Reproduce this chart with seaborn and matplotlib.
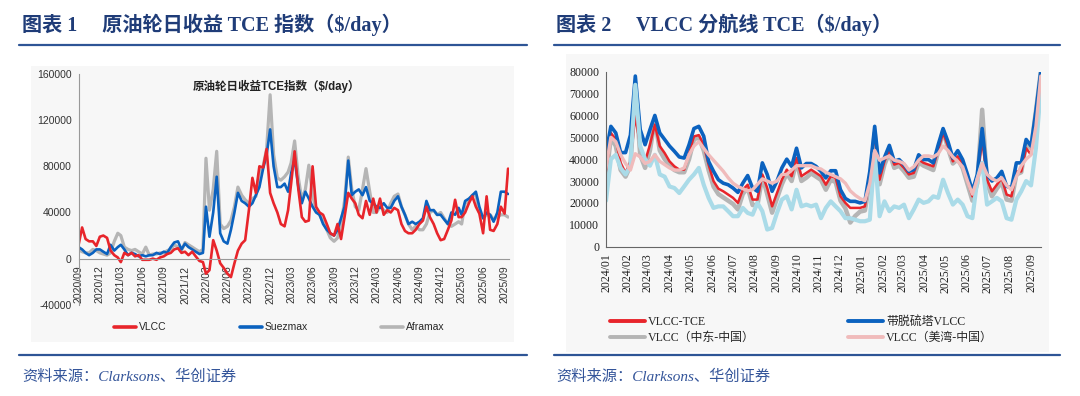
import numpy as np
import pandas as pd
import matplotlib
matplotlib.use("Agg")
import matplotlib.pyplot as plt
import matplotlib.dates as mdates
from matplotlib.patches import Rectangle
from matplotlib.lines import Line2D
import seaborn as sns


# ---------------------------------------------------------------------
# Data: chart 1 (semi-monthly, k$/day), 2020/09 - 2025/09
# ---------------------------------------------------------------------
left_months = pd.date_range("2020-09-01", "2025-09-01", freq="MS")
left_dates = sorted(list(left_months) + list(left_months + pd.Timedelta(days=15)))

vlcc_k = [
    12, 27, 17, 15, 15, 11, 19, 20,
    18, 7, 3, 1, -3, 5, 3, 5, 2, 3, -1, -1, -1, 0, -1, 1, 2, 4, 5, 8, 9, 5, 6, 3,
    6, 2, -2, -3, -13, -10, 16, 7, -4, -8, -13, -16, -4, 7, 13, 16, 42, 70, 57, 80, 79, 95, 57, 48,
    40, 30, 28, 42, 65, 93, 60, 36, 32, 33, 80, 45, 40, 38, 30, 22, 20, 30, 17, 36, 57, 52, 48, 38,
    35, 50, 38, 52, 40, 52, 38, 42, 40, 44, 42, 30, 24, 22, 22, 25, 30, 33, 45, 36, 30, 22, 16, 17,
    25, 33, 51, 36, 36, 40, 48, 54, 45, 39, 22, 54, 25, 24, 30, 45, 39, 78,
]
suezmax_k = [
    10, 8, 5, 3, 5, 8, 8, 6,
    4, 12, 7, 10, 12, 8, 3, 5, 4, 2, 3, 2, 3, 3, 5, 4, 6, 5, 10, 14, 15, 8, 13, 10,
    8, 6, 4, 5, 45, 19, 40, 71, 22, 15, 13, 25, 40, 57, 50, 48, 45, 48, 55, 62, 78, 90, 112, 80,
    62, 62, 65, 58, 74, 86, 62, 48, 58, 52, 45, 40, 38, 30, 25, 22, 20, 25, 35, 45, 85, 55, 58, 60,
    55, 62, 50, 48, 45, 44, 48, 44, 44, 50, 54, 45, 38, 30, 32, 30, 32, 35, 50, 42, 42, 38, 38, 34,
    30, 40, 38, 44, 38, 50, 52, 55, 58, 45, 35, 40, 38, 32, 40, 58, 58, 56,
]
aframax_k = [
    8, 6, 5, 5, 8, 7, 5, 4,
    3, 5, 15, 22, 20, 10, 8, 7, 8, 6, 4, 10, 3, 4, 4, 5, 5, 7, 8, 12, 10, 7, 14, 12,
    10, 8, 6, 8, 87, 42, 60, 93, 30, 26, 28, 33, 45, 62, 55, 51, 48, 52, 54, 74, 80, 95, 142, 90,
    70, 68, 71, 75, 83, 102, 70, 51, 60, 81, 55, 42, 38, 32, 25, 18, 15, 18, 30, 50, 88, 60, 45, 42,
    60, 78, 58, 40, 40, 45, 42, 40, 48, 54, 56, 45, 38, 30, 25, 28, 25, 25, 30, 40, 42, 38, 40, 35,
    30, 28, 30, 32, 30, 48, 50, 55, 55, 40, 35, 38, 38, 34, 36, 38, 38, 36,
]

# ---------------------------------------------------------------------
# Data: chart 2 (weekly, k$/day), 2024/01 - 2025/09
# ---------------------------------------------------------------------
right_dates = pd.date_range("2024-01-01", periods=90, freq="7D")

vlcc_tce_k = [
    34.4, 52, 49, 38.3, 33.7, 39, 60, 46, 39, 46.6, 55.8, 46, 42.8, 39, 36.7, 35.2, 35.2,
    42.8, 50.4, 51, 46.6, 37.5, 30, 26.5, 25.3, 23.8, 22.3, 20, 26, 28.3, 21.5, 21.5, 33,
    26.8, 18.4, 24.5, 30.6, 35.2, 32.2, 40.5, 32.2, 33.7,
    35.2, 33.7, 32.2, 28.3, 32.2, 31.4, 23, 20, 17.7, 17.7, 17.7, 18.4, 32.2, 52.7, 30.6,
    39, 44.3, 37.5, 38.3, 36, 33, 33.7, 39.8, 38.3, 37.5, 36.7, 44.3, 52, 46, 39, 41.3,
    37.5, 30.6, 23, 30.6, 49, 30.6, 25.3, 28.3, 31.4, 23.8, 23, 34.4, 34.4,
    45, 42, 58, 78,
]
scrubber_vlcc_k = [
    42.8, 55, 52, 43, 43, 51, 78, 53.5, 46.6, 53.5, 60, 52, 49, 46, 43.6, 41, 40.5,
    46.6, 54, 55, 50.5, 39, 34.5, 30.6, 29, 28.3, 26.8, 24.8, 29, 32.5, 26.8, 25.3, 38.3,
    33, 25.3, 30, 36, 40, 36.7, 45, 36, 38,
    38, 36.7, 34.4, 31.4, 34.7, 34.7, 26, 22, 20.7, 20.7, 20, 20.7, 34.4, 55, 33.7,
    40.8, 46.3, 39, 39.8, 37.5, 34.4, 35.2, 42, 39.8, 39.8, 38.3, 46.6, 54, 48, 40.5, 43.9,
    39.8, 33, 25.3, 33, 54, 33, 30, 31.4, 34.4, 27.6, 26.8, 38.3, 38.3,
    49, 46, 62, 80,
]
me_china_k = [
    31, 50, 46, 35, 32, 37, 72, 42, 36, 44, 58, 44, 40, 37, 35, 34, 34,
    40, 49, 50, 44, 35, 27.5, 24, 22.5, 21, 19.5, 17, 24, 27, 19, 19, 32,
    24, 15.5, 22, 28.5, 33.5, 30, 39, 30, 31.5,
    33.5, 32, 30.5, 26, 30.5, 29.5, 21, 17.5, 11, 14, 16, 16.5, 30, 52, 28.5,
    37.5, 43, 36, 37, 34.5, 31.5, 32, 38.5, 37, 36, 35, 43.5, 53, 45, 38, 40,
    36, 28.5, 21, 29, 62.6, 29, 23, 26.5, 29.5, 21.5, 21, 33, 34,
    47, 45, 62, 80,
]
usg_china_k = [
    36, 50, 48, 42, 38, 35, 42.5, 41, 38, 39, 42, 39, 37.5, 36, 35, 35, 36,
    42, 46, 48, 45, 42, 39.5, 37, 34.5, 31.5, 29, 27.5, 26.5, 25.5, 26, 28.5, 31,
    30, 29, 30, 33, 33, 35, 37, 37, 37,
    37, 36, 35.5, 34, 33, 32, 31, 29, 25.5, 23.5, 22, 21, 29, 44, 39.5,
    40.5, 41.5, 39.5, 39, 38, 35, 36.5, 39.5, 41.5, 41.5, 41, 42.5, 46, 44, 41, 39,
    36.5, 30, 24, 31, 38, 33, 31, 30, 31.5, 28, 26, 32, 37,
    40, 42, 55, 78,
]
other_route_k = [
    21, 40, 42, 36, 33, 37, 74, 46, 40, 37, 42, 33, 32, 27.5, 26.8, 24.5, 27.5,
    30.6, 33, 36, 28.3, 22.3, 17.7, 18.4, 18.4, 16.2, 13.9, 13.9, 17.7, 15.4, 14.6, 20,
    16.2, 7.8, 8.5, 15.4, 21.5, 23, 17, 26, 18.4, 19.2,
    18.4, 19.2, 13, 17.7, 20.7, 18.4, 16.2, 13, 13, 12.3, 11.6, 11.6, 12.3, 42.8, 13.9,
    20.7, 16.2, 18.4, 17.7, 19.2, 13, 17, 21.5, 20, 20.7, 23, 22.3, 30.6, 24.5, 19.2, 21.5,
    19.2, 13.9, 13, 30.6, 38.3, 19.2, 20.7, 22.3, 20.7, 13, 12.3, 21.5, 25.3,
    30, 28, 45, 72,
]

# ---------------------------------------------------------------------
# Style
# ---------------------------------------------------------------------
sns.set_style("white")
SANS = ["Liberation Sans", "Noto Sans CJK SC", "DejaVu Sans"]
SERIF = ["Liberation Serif", "Noto Sans CJK SC", "DejaVu Sans"]
plt.rcParams["font.family"] = SANS
plt.rcParams["axes.unicode_minus"] = False

RED = "#E8252B"
BLUE = "#0B62BF"
GRAY = "#B5B5B5"
PINK = "#F0BBBB"
LIGHT = "#AADBE8"
NAVY = "#24488A"

W, H = 1080, 396


def fx(px):
    return px / W


def fy(py):
    return 1 - py / H


fig = plt.figure(figsize=(10.8, 3.96), dpi=100)

# panel backgrounds (behind the axes)
fig.patches.append(Rectangle((fx(31), fy(342)), fx(483), 276.5 / H, transform=fig.transFigure,
                             facecolor="#f7f7f7", edgecolor="none", zorder=-10))
fig.patches.append(Rectangle((fx(566), fy(352)), fx(483), 298.5 / H, transform=fig.transFigure,
                             facecolor="#f7f7f7", edgecolor="none", zorder=-10))

# titles, rules, sources
for x0, x1 in [(19, 527), (554, 1060)]:
    fig.add_artist(Line2D([fx(x0), fx(x1)], [fy(45), fy(45)], color="#2E5596", lw=1.6))
    fig.add_artist(Line2D([fx(x0), fx(x1)], [fy(355), fy(355)], color="#2E5596", lw=1.6))
fig.text(fx(22), fy(25), "图表 1     原油轮日收益 TCE 指数（$/day）", family=SERIF, fontsize=14.5,
         fontweight="bold", color="#1F3C78", va="center")
fig.text(fx(556), fy(25), "图表 2     VLCC 分航线 TCE（$/day）", family=SERIF, fontsize=14.5,
         fontweight="bold", color="#1F3C78", va="center")
for x in (22, 556):
    fig.text(fx(x), fy(377), "资料来源：Clarksons、华创证券", family=SERIF, fontsize=11,
             style="italic", color="#34559A", va="center")

# ---------------------------------------------------------------------
# Chart 1
# ---------------------------------------------------------------------
ax1 = fig.add_axes([fx(78.6), fy(304.8), fx(509 - 78.6), (304.8 - 74) / H])
ax1.set_facecolor("none")
left_df = pd.DataFrame({"date": left_dates,
                        "VLCC": np.array(vlcc_k) * 1000,
                        "Suezmax": np.array(suezmax_k) * 1000,
                        "Aframax": np.array(aframax_k) * 1000})
sns.lineplot(data=left_df, x="date", y="Aframax", ax=ax1, color=GRAY, lw=2.3)
sns.lineplot(data=left_df, x="date", y="Suezmax", ax=ax1, color=BLUE, lw=1.9)
sns.lineplot(data=left_df, x="date", y="VLCC", ax=ax1, color=RED, lw=1.9)

ax1.set_xlim(pd.Timestamp("2020-09-01"), pd.Timestamp("2025-09-20"))
ax1.set_ylim(-40000, 160000)
ax1.set_yticks(range(-40000, 160001, 40000))
ax1.set_xticks(pd.date_range("2020-09-01", "2025-09-01", freq="3MS"))
ax1.xaxis.set_major_formatter(mdates.DateFormatter("%Y/%m"))
ax1.set_xlabel("")
ax1.set_ylabel("")
for s in ("top", "right"):
    ax1.spines[s].set_visible(False)
ax1.spines["bottom"].set_position(("data", 0))
ax1.spines["bottom"].set_color("#999999")
ax1.spines["left"].set_color("#999999")
ax1.tick_params(axis="both", length=3, color="#999999", labelsize=7.5, labelcolor="#333333", pad=2)
ax1.tick_params(axis="x", rotation=90)
ax1.text(0.46, 0.945, "原油轮日收益TCE指数（$/day）", transform=ax1.transAxes, ha="center",
         va="center", fontsize=8.3, fontweight="bold", color="#222222")

for px, lab, col in [(112, "VLCC", RED), (238, "Suezmax", BLUE), (379, "Aframax", GRAY)]:
    fig.legend(handles=[Line2D([], [], color=col, lw=2.6)], labels=[lab], loc="center left",
               bbox_to_anchor=(fx(px) - 0.005, fy(327.5)), frameon=False, fontsize=7.5,
               handlelength=2.1, handletextpad=0.3, borderpad=0.2)

# ---------------------------------------------------------------------
# Chart 2
# ---------------------------------------------------------------------
ax2 = fig.add_axes([fx(606), fy(246.6), fx(1040.8 - 606), (246.6 - 71.7) / H])
ax2.set_facecolor("none")
right_df = pd.DataFrame({"date": right_dates,
                         "other": np.array(other_route_k) * 1000,
                         "me": np.array(me_china_k) * 1000,
                         "tce": np.array(vlcc_tce_k) * 1000,
                         "scrubber": np.array(scrubber_vlcc_k) * 1000,
                         "usg": np.array(usg_china_k) * 1000})
sns.lineplot(data=right_df, x="date", y="me", ax=ax2, color=GRAY, lw=3.2)
sns.lineplot(data=right_df, x="date", y="tce", ax=ax2, color=RED, lw=1.8)
sns.lineplot(data=right_df, x="date", y="scrubber", ax=ax2, color=BLUE, lw=2.6)
sns.lineplot(data=right_df, x="date", y="other", ax=ax2, color=LIGHT, lw=3.0)
sns.lineplot(data=right_df, x="date", y="usg", ax=ax2, color=PINK, lw=2.4)

ax2.set_xlim(pd.Timestamp("2024-01-01"), pd.Timestamp("2025-09-15"))
ax2.set_ylim(0, 80000)
ax2.set_yticks(range(0, 80001, 10000))
ax2.set_xticks(pd.date_range("2024-01-01", "2025-09-01", freq="MS"))
ax2.xaxis.set_major_formatter(mdates.DateFormatter("%Y/%m"))
ax2.set_xlabel("")
ax2.set_ylabel("")
for s in ("top", "right"):
    ax2.spines[s].set_visible(False)
for s in ("bottom", "left"):
    ax2.spines[s].set_color("#666666")
ax2.tick_params(axis="both", length=3, color="#666666", labelsize=8.6, labelcolor="#222222", pad=2)
ax2.tick_params(axis="x", rotation=90)
for lab in ax2.get_xticklabels() + ax2.get_yticklabels():
    lab.set_family(SERIF)

for px, items in [(607, [("VLCC-TCE", RED), ("VLCC（中东-中国）", GRAY)]),
                  (845, [("带脱硫塔VLCC", BLUE), ("VLCC（美湾-中国）", PINK)])]:
    fig.legend(handles=[Line2D([], [], color=c, lw=2.8) for _, c in items],
               labels=[t for t, _ in items], loc="center left",
               bbox_to_anchor=(fx(px) - 0.005, fy(330)), frameon=False,
               prop={"family": SERIF, "size": 8.6}, handlelength=2.9, handletextpad=0.3,
               labelspacing=0.35, borderpad=0.2)

fig.savefig("out.png", dpi=100)
